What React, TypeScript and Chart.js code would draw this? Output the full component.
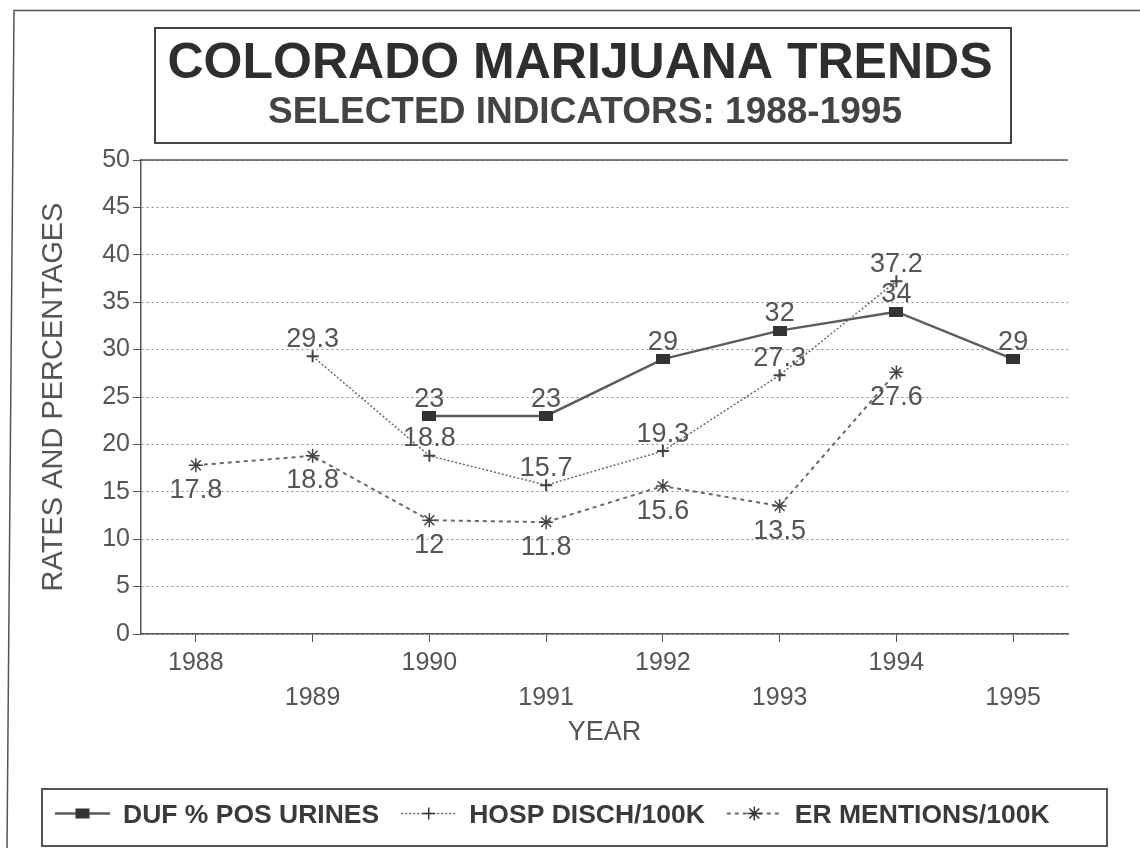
import { useEffect, useRef } from "react";
import { Chart, registerables } from "chart.js";

Chart.register(...registerables);

// ---- data ----
const years = ["1988", "1989", "1990", "1991", "1992", "1993", "1994", "1995"];
const seriesNames = ["DUF % POS URINES", "HOSP DISCH/100K", "ER MENTIONS/100K"];
const dufPosUrines = [null, null, 23, 23, 29, 32, 34, 29];
const hospDisch = [null, 29.3, 18.8, 15.7, 19.3, 27.3, 37.2, null];
const erMentions = [17.8, 18.8, 12, 11.8, 15.6, 13.5, 27.6, null];
const yTicks = [0, 5, 10, 15, 20, 25, 30, 35, 40, 45, 50];

const titleText = "COLORADO MARIJUANA TRENDS";
const subtitleText = "SELECTED INDICATORS: 1988-1995";
const xAxisTitle = "YEAR";
const yAxisTitle = "RATES AND PERCENTAGES";

const seriesValues = [dufPosUrines, hospDisch, erMentions];

// ---- styling ----
const FONT = "'Liberation Sans', Arial, Helvetica, sans-serif";
const INK = "#555";
const markerKinds = ["square", "cross", "star"];
const labelBelow = [false, false, true];

function squareMarker(w: number, h: number, color: string) {
  const c = document.createElement("canvas");
  c.width = w;
  c.height = h;
  const g = c.getContext("2d")!;
  g.fillStyle = color;
  g.fillRect(0, 0, w, h);
  return c;
}

function drawMarker(ctx: CanvasRenderingContext2D, kind: string, x: number, y: number, color: string) {
  ctx.save();
  ctx.setLineDash([]);
  ctx.strokeStyle = color;
  ctx.fillStyle = color;
  ctx.lineWidth = 1.5;
  if (kind === "square") {
    ctx.fillRect(x - 7, y - 5, 14, 10);
  } else {
    const r = kind === "cross" ? 6 : 7;
    ctx.beginPath();
    ctx.moveTo(x - r, y);
    ctx.lineTo(x + r, y);
    ctx.moveTo(x, y - r);
    ctx.lineTo(x, y + r);
    if (kind === "star") {
      const d = r * 0.707;
      ctx.moveTo(x - d, y - d);
      ctx.lineTo(x + d, y + d);
      ctx.moveTo(x - d, y + d);
      ctx.lineTo(x + d, y - d);
    }
    ctx.stroke();
  }
  ctx.restore();
}

// value labels next to each point
const valueLabels = {
  id: "valueLabels",
  afterDatasetsDraw(chart: any) {
    const ctx: CanvasRenderingContext2D = chart.ctx;
    ctx.save();
    ctx.font = `27px ${FONT}`;
    ctx.fillStyle = INK;
    ctx.textAlign = "center";
    ctx.textBaseline = "alphabetic";
    const capMid = 27 * 0.358;
    chart.data.datasets.forEach((_: any, di: number) => {
      const meta = chart.getDatasetMeta(di);
      meta.data.forEach((pt: any, i: number) => {
        const v = seriesValues[di][i];
        if (v == null) return;
        const cy = pt.y + (labelBelow[di] ? 23 : -19);
        ctx.fillText(String(v), pt.x, cy + capMid);
      });
    });
    ctx.restore();
  },
};

// page frame, title box, plot top edge and legend
const decorations = {
  id: "decorations",
  afterDraw(chart: any) {
    const ctx: CanvasRenderingContext2D = chart.ctx;
    const area = chart.chartArea;
    ctx.save();

    // outer frame (top and left edges)
    ctx.strokeStyle = "#555";
    ctx.lineWidth = 1.5;
    ctx.beginPath();
    ctx.moveTo(1140, 10.5);
    ctx.lineTo(14, 10.5);
    ctx.lineTo(7, 848);
    ctx.stroke();

    // title box
    ctx.strokeStyle = "#444";
    ctx.lineWidth = 2;
    ctx.strokeRect(155, 28, 856, 115);
    ctx.textAlign = "center";
    ctx.textBaseline = "alphabetic";
    ctx.fillStyle = "#2e2e2e";
    ctx.font = `bold 50px ${FONT}`;
    ctx.fillText(titleText, 580, 78);
    ctx.fillStyle = "#444";
    ctx.font = `bold 37px ${FONT}`;
    ctx.fillText(subtitleText, 585, 123);

    // solid top edge of the plot
    ctx.strokeStyle = "#555";
    ctx.lineWidth = 1.5;
    ctx.beginPath();
    ctx.moveTo(area.left, area.top);
    ctx.lineTo(area.right, area.top);
    ctx.stroke();

    // legend
    const boxTop = 789;
    const boxH = 57;
    const cy = boxTop + boxH / 2 - 4;
    ctx.strokeStyle = "#555";
    ctx.lineWidth = 2;
    ctx.strokeRect(42, boxTop, 1065, boxH);
    const fs = 26.5;
    ctx.font = `bold ${fs}px ${FONT}`;
    ctx.textAlign = "left";
    let x = 55;
    chart.data.datasets.forEach((ds: any, di: number) => {
      const sampleLen = 55;
      ctx.save();
      ctx.strokeStyle = ds.borderColor;
      ctx.lineWidth = ds.borderWidth;
      ctx.setLineDash(ds.borderDash || []);
      ctx.beginPath();
      ctx.moveTo(x, cy);
      ctx.lineTo(x + sampleLen, cy);
      ctx.stroke();
      ctx.restore();
      drawMarker(ctx, markerKinds[di], x + sampleLen / 2, cy, "#333");
      x += sampleLen + 13;
      ctx.fillStyle = "#3a3a3a";
      ctx.fillText(ds.label, x, cy + fs * 0.358);
      x += ctx.measureText(ds.label).width + 22;
    });

    ctx.restore();
  },
};

export default function App() {
  const ref = useRef<HTMLCanvasElement>(null);

  useEffect(() => {
    const canvas = ref.current;
    if (!canvas) return;
    const toPoints = (vals: (number | null)[]) => vals.map((v, i) => ({ x: i, y: v }));

    const chart = new Chart(canvas, {
      type: "line",
      data: {
        datasets: [
          {
            label: seriesNames[0],
            data: toPoints(dufPosUrines) as any,
            borderColor: "#5c5c5c",
            borderWidth: 2.5,
            pointStyle: squareMarker(14, 10, "#333") as any,
            pointRadius: 7,
            tension: 0,
          },
          {
            label: seriesNames[1],
            data: toPoints(hospDisch) as any,
            borderColor: "#6a6a6a",
            borderWidth: 1.5,
            borderDash: [2, 2],
            pointStyle: "cross",
            pointRadius: 6,
            pointBorderColor: "#444",
            pointBorderWidth: 2,
            tension: 0,
          },
          {
            label: seriesNames[2],
            data: toPoints(erMentions) as any,
            borderColor: "#6a6a6a",
            borderWidth: 2,
            borderDash: [4, 4],
            pointStyle: "star",
            pointRadius: 7,
            pointBorderColor: "#444",
            pointBorderWidth: 1.5,
            tension: 0,
          },
        ],
      },
      options: {
        responsive: false,
        animation: false,
        events: [],
        layout: { padding: { top: 160, right: 72, bottom: 99, left: 0 } },
        plugins: {
          legend: { display: false },
          tooltip: { enabled: false },
          title: { display: false },
        },
        scales: {
          x: {
            type: "linear",
            min: -0.47,
            max: 7.47,
            afterBuildTicks: (axis: any) => {
              axis.ticks = years.map((_, i) => ({ value: i }));
            },
            afterFit: (s: any) => {
              s.height = 115;
            },
            ticks: {
              autoSkip: false,
              maxRotation: 0,
              minRotation: 0,
              padding: 4,
              color: INK,
              font: { family: FONT, size: 25, lineHeight: 1.4 },
              callback: (v: any) => {
                const i = Math.round(Number(v));
                return i % 2 === 0 ? [years[i], ""] : ["", years[i]];
              },
            },
            grid: {
              drawOnChartArea: false,
              drawTicks: true,
              tickLength: 8,
              tickColor: "#555",
              tickWidth: 1,
            },
            border: { display: true, color: "#555", width: 1.5 },
            title: {
              display: true,
              text: xAxisTitle,
              color: INK,
              font: { family: FONT, size: 27, lineHeight: 1.2 },
              padding: { top: 0, bottom: 0 },
            },
          },
          y: {
            type: "linear",
            min: 0,
            max: 50,
            afterBuildTicks: (axis: any) => {
              axis.ticks = yTicks.map((v) => ({ value: v }));
            },
            afterFit: (s: any) => {
              s.width = 141;
            },
            ticks: {
              padding: 3,
              color: INK,
              font: { family: FONT, size: 25 },
            },
            grid: {
              color: "#8a8a8a",
              lineWidth: 1,
              tickLength: 8,
              tickColor: "#555",
              tickBorderDash: [],
            },
            border: {
              display: true,
              color: "#555",
              width: 1.5,
              dash: [2, 3],
            },
            title: {
              display: true,
              text: yAxisTitle,
              color: INK,
              font: { family: FONT, size: 29, lineHeight: 1.2 },
              padding: { top: 37, bottom: 0 },
            },
          },
        },
      },
      plugins: [valueLabels, decorations],
    });

    return () => chart.destroy();
  }, []);

  return (
    <div style={{ position: "absolute", left: 0, top: 0, width: 1140, height: 848, background: "#fff" }}>
      <canvas ref={ref} width={1140} height={848} style={{ display: "block" }} />
    </div>
  );
}
